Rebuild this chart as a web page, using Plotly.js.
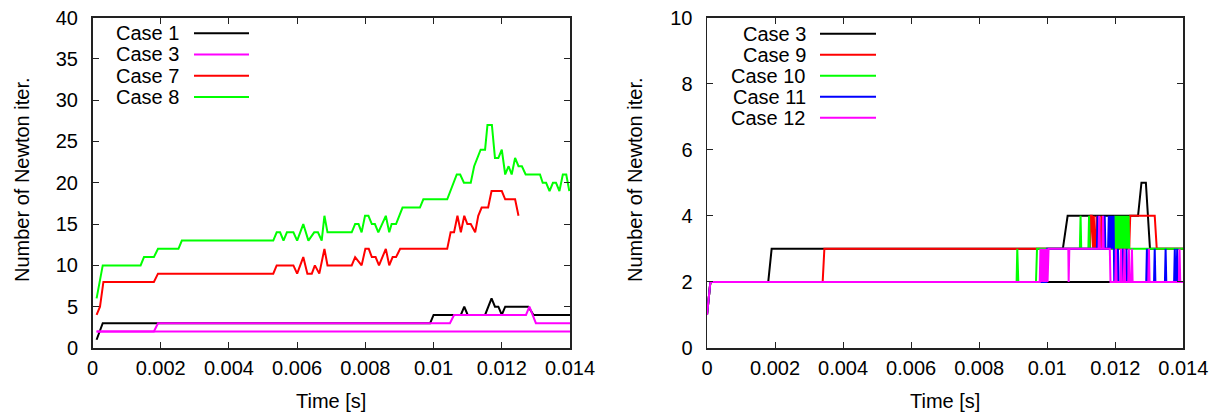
<!DOCTYPE html>
<html>
<head>
<meta charset="utf-8">
<script src="https://cdn.plot.ly/plotly-3.0.1.min.js"></script>
<style>html,body{margin:0;padding:0;background:#fff;}#chart{width:1224px;height:418px;}</style>
</head>
<body>
<div id="chart"></div>
<script>
// ---------- data: left panel ----------
const xTickVals = [0, 0.002, 0.004, 0.006, 0.008, 0.01, 0.012, 0.014];
const xTickText = ["0", "0.002", "0.004", "0.006", "0.008", "0.01", "0.012", "0.014"];
const leftYTicks = [0, 5, 10, 15, 20, 25, 30, 35, 40];
const rightYTicks = [0, 2, 4, 6, 8, 10];

const leftNames = ["Case 1", "Case 3", "Case 7", "Case 8"];

const case1_t = [0.00012, 0.0003, 0.0099, 0.0100, 0.0108, 0.0109, 0.0110, 0.01151, 0.0117, 0.0118, 0.0119, 0.0120, 0.0121, 0.01278, 0.01293, 0.014];
const case1_n = [1, 3, 3, 4, 4, 5, 4, 4, 6, 5, 5, 4, 5, 5, 4, 4];

const case3L_t = [0.00012, 0.0018, 0.00192, 0.01048, 0.0106, 0.01271, 0.01281, 0.0130, 0.014];
const case3L_n = [2, 2, 3, 3, 4, 4, 5, 3, 3];
const case3Lb_t = [0.00012, 0.014];
const case3Lb_n = [2, 2];

const case7_t = [0.00012, 0.00022, 0.00032, 0.0018, 0.00192, 0.0053, 0.0054, 0.00589, 0.0060, 0.00618, 0.0063, 0.00643, 0.00652, 0.00665, 0.0068, 0.00689, 0.0076, 0.0077, 0.00789, 0.0080, 0.0081, 0.00819, 0.0083, 0.0084, 0.0086, 0.0087, 0.0088, 0.0089, 0.00902, 0.0104, 0.0105, 0.0106, 0.0107, 0.0108, 0.0109, 0.01099, 0.01109, 0.01122, 0.01131, 0.01141, 0.0116, 0.0117, 0.0120, 0.0121, 0.01239, 0.01249];
const case7_n = [4, 5, 8, 8, 9, 9, 10, 10, 9, 11, 9, 9, 10, 9, 12, 10, 10, 11, 10, 12, 12, 11, 11, 10, 12, 10, 11, 11, 12, 12, 14, 14, 16, 14, 16, 15, 15, 14, 16, 17, 17, 19, 19, 18, 18, 16];

const case8_t = [0.00012, 0.0003, 0.00141, 0.00151, 0.0018, 0.00192, 0.00252, 0.00262, 0.0053, 0.0054, 0.0055, 0.0056, 0.0057, 0.00589, 0.0060, 0.00618, 0.00633, 0.0065, 0.00661, 0.00672, 0.0068, 0.00689, 0.0076, 0.0077, 0.0078, 0.00789, 0.00799, 0.00809, 0.00819, 0.00828, 0.00838, 0.0086, 0.0087, 0.00877, 0.0089, 0.00909, 0.0096, 0.0097, 0.0104, 0.01068, 0.01078, 0.01089, 0.01109, 0.01119, 0.01138, 0.01151, 0.01158, 0.01171, 0.0118, 0.0119, 0.0120, 0.0121, 0.0122, 0.01229, 0.01239, 0.01249, 0.01259, 0.0127, 0.01312, 0.0132, 0.0133, 0.0134, 0.0135, 0.01359, 0.01369, 0.01379, 0.01389, 0.01398];
const case8_n = [6, 10, 10, 11, 11, 12, 12, 13, 13, 14, 14, 13, 14, 14, 13, 15, 13, 14, 14, 13, 16, 14, 14, 15, 15, 14, 16, 16, 15, 15, 14, 16, 14, 15, 15, 17, 17, 18, 18, 21, 21, 20, 20, 22, 24, 24, 27, 27, 23, 23, 24, 21, 22, 21, 23, 22, 22, 21, 21, 20, 20, 19, 20, 20, 19, 21, 21, 19];

// ---------- data: right panel ----------
const rightNames = ["Case 3", "Case 9", "Case 10", "Case 11", "Case 12"];

const case3R_t = [0, 0.0001, 0.0018, 0.0019, 0.01046, 0.0106, 0.01267, 0.01277, 0.0129, 0.01302, 0.014];
const case3R_n = [1, 2, 2, 3, 3, 4, 4, 5, 5, 3, 3];
const case3Rb_t = [0.0001, 0.014];
const case3Rb_n = [2, 2];

const case9_t = [0, 0.0001, 0.0034, 0.00345, 0.01126, 0.01128, 0.01131, 0.01133, 0.01135, 0.01137, 0.0114, 0.01143, 0.01145, 0.01147, 0.01157, 0.01159, 0.01161, 0.01241, 0.01244, 0.01316, 0.01322, 0.014];
const case9_n = [1, 2, 2, 3, 3, 4, 4, 3, 3, 4, 3, 3, 4, 3, 3, 4, 3, 3, 4, 4, 3, 3];

const case10_t = [0, 0.0001, 0.0091, 0.00912, 0.00915, 0.00967, 0.0097, 0.01096, 0.01098, 0.011, 0.01121, 0.01123, 0.01125, 0.01197, 0.01199, 0.01201, 0.01203, 0.01205, 0.01207, 0.01209, 0.01211, 0.01213, 0.01215, 0.01217, 0.01219, 0.01221, 0.01223, 0.01225, 0.01227, 0.01229, 0.01231, 0.01233, 0.01235, 0.01237, 0.01239, 0.01241, 0.014];
const case10_n = [1, 2, 2, 3, 2, 2, 3, 3, 4, 3, 3, 4, 3, 3, 4, 3, 4, 3, 4, 3, 4, 3, 4, 3, 4, 3, 4, 3, 4, 3, 4, 3, 4, 3, 4, 3, 3];

const case11_t = [0, 0.0001, 0.00998, 0.01, 0.01146, 0.01148, 0.0115, 0.01167, 0.01169, 0.01171, 0.01179, 0.01181, 0.01183, 0.01184, 0.01186, 0.01188, 0.01189, 0.01191, 0.01193, 0.01195, 0.01197, 0.01206, 0.01208, 0.0121, 0.01221, 0.01223, 0.01225, 0.01231, 0.01233, 0.01235, 0.01291, 0.01293, 0.01295, 0.01314, 0.01316, 0.01318, 0.01346, 0.01348, 0.0135, 0.01373, 0.01375, 0.01377, 0.0138, 0.01382, 0.01384, 0.014];
const case11_n = [1, 2, 2, 3, 3, 4, 3, 3, 4, 3, 3, 4, 3, 4, 3, 4, 3, 4, 3, 4, 2, 2, 3, 2, 2, 3, 2, 2, 3, 2, 2, 3, 2, 2, 3, 2, 2, 3, 2, 2, 3, 2, 2, 3, 2, 2];

const case12_t = [0, 0.0001, 0.00978, 0.0098, 0.00983, 0.00986, 0.00989, 0.00992, 0.00995, 0.00998, 0.01001, 0.01004, 0.01062, 0.01063, 0.01065, 0.01151, 0.01153, 0.01155, 0.01162, 0.01164, 0.01166, 0.01184, 0.01186, 0.012, 0.01202, 0.01204, 0.01215, 0.01217, 0.01219, 0.01225, 0.01227, 0.01229, 0.01238, 0.0124, 0.01242, 0.01247, 0.01249, 0.01251, 0.01297, 0.01299, 0.01301, 0.01387, 0.01389, 0.01391, 0.014];
const case12_n = [1, 2, 2, 3, 2, 3, 2, 3, 2, 3, 2, 3, 3, 2, 3, 3, 4, 3, 3, 4, 3, 3, 2, 2, 3, 2, 2, 3, 2, 2, 3, 2, 2, 3, 2, 2, 3, 2, 2, 3, 2, 2, 3, 2, 2];

// ---------- styles ----------
const leftColors = ["#000000", "#ff00ff", "#ff0000", "#00ff00"];
const rightColors = ["#000000", "#ff0000", "#00ff00", "#0000ff", "#ff00ff"];
const LW = 2;
const FONT = "Liberation Sans, Arial, Helvetica, sans-serif";
const W = 1224, H = 418;

function tr(x, y, color, xa, ya) {
  return {x: x, y: y, type: "scatter", mode: "lines", xaxis: xa, yaxis: ya,
    line: {color: color, width: LW}, showlegend: false, hoverinfo: "skip"};
}

const data = [
  tr(case1_t, case1_n, leftColors[0], "x", "y"),
  tr(case3Lb_t, case3Lb_n, leftColors[1], "x", "y"),
  tr(case3L_t, case3L_n, leftColors[1], "x", "y"),
  tr(case7_t, case7_n, leftColors[2], "x", "y"),
  tr(case8_t, case8_n, leftColors[3], "x", "y"),
  tr(case3Rb_t, case3Rb_n, rightColors[0], "x2", "y2"),
  tr(case3R_t, case3R_n, rightColors[0], "x2", "y2"),
  tr(case9_t, case9_n, rightColors[1], "x2", "y2"),
  tr(case10_t, case10_n, rightColors[2], "x2", "y2"),
  tr(case11_t, case11_n, rightColors[3], "x2", "y2"),
  tr(case12_t, case12_n, rightColors[4], "x2", "y2")
];

const yDom = [(H - 348) / H, (H - 17.5) / H];
function xAxis(dom) {
  return {domain: dom, range: [0, 0.014], tickmode: "array", tickvals: xTickVals, ticktext: xTickText,
    ticks: "inside", ticklen: 6, tickwidth: 1, tickcolor: "#222", showline: true, mirror: "ticks",
    linecolor: "#222", linewidth: 1.5, showgrid: false, zeroline: false, ticklabelstandoff: 1,
    tickfont: {family: FONT, size: 20, color: "#000"}, fixedrange: true};
}
function yAxis(anchor, range, ticks) {
  return {domain: yDom, anchor: anchor, range: range, tickmode: "array", tickvals: ticks,
    ticks: "inside", ticklen: 6, tickwidth: 1, tickcolor: "#222", showline: true, mirror: "ticks",
    linecolor: "#222", linewidth: 1.5, showgrid: false, zeroline: false, ticklabelstandoff: 9,
    tickfont: {family: FONT, size: 20, color: "#000"}, fixedrange: true};
}

const annotations = [];
const shapes = [];
function px(x) { return x / W; }
function py(y) { return 1 - y / H; }

// axis titles
[[22, 180], [635, 180]].forEach(function (p) {
  annotations.push({text: "Number of Newton iter.", xref: "paper", yref: "paper", x: px(p[0]), y: py(p[1]),
    xanchor: "center", yanchor: "middle", textangle: -90, showarrow: false,
    font: {family: FONT, size: 20, color: "#000"}});
});
[[331, 401], [945, 401]].forEach(function (p) {
  annotations.push({text: "Time [s]", xref: "paper", yref: "paper", x: px(p[0]), y: py(p[1]),
    xanchor: "center", yanchor: "middle", showarrow: false,
    font: {family: FONT, size: 20, color: "#000"}});
});

// gnuplot-style keys (text right-aligned, sample line on the right)
function key(names, colors, textRight, lineX0, lineX1, y0, dy) {
  names.forEach(function (nm, i) {
    const y = y0 + i * dy;
    annotations.push({text: nm, xref: "paper", yref: "paper", x: px(textRight), y: py(y),
      xanchor: "right", yanchor: "middle", showarrow: false,
      font: {family: FONT, size: 20, color: "#000"}});
    shapes.push({type: "line", xref: "paper", yref: "paper", x0: px(lineX0), x1: px(lineX1),
      y0: py(y), y1: py(y), line: {color: colors[i], width: LW}});
  });
}
key(leftNames, leftColors, 181, 194, 249, 33.3, 21.2);
key(rightNames, rightColors, 808, 820, 876, 33.7, 21.0);

const layout = {
  width: W, height: H, margin: {l: 0, r: 0, t: 0, b: 0},
  paper_bgcolor: "#fff", plot_bgcolor: "#fff", showlegend: false,
  xaxis: xAxis([92.5 / W, 570 / W]),
  yaxis: yAxis("x", [0, 40], leftYTicks),
  xaxis2: Object.assign(xAxis([707 / W, 1183.3 / W]), {anchor: "y2"}),
  yaxis2: yAxis("x2", [0, 10], rightYTicks),
  annotations: annotations, shapes: shapes,
  font: {family: FONT, color: "#000"}
};
layout.xaxis.anchor = "y";

Plotly.newPlot("chart", data, layout, {staticPlot: true, displayModeBar: false});
</script>
</body>
</html>
